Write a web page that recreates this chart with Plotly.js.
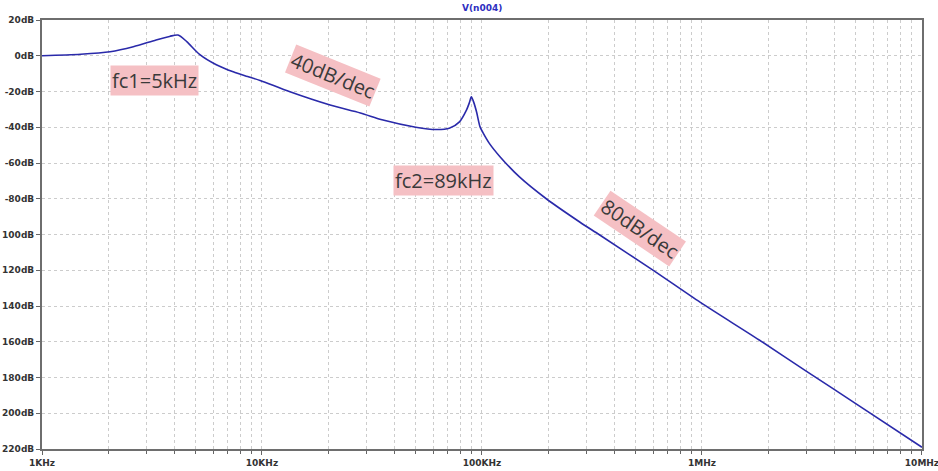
<!DOCTYPE html>
<html>
<head>
<meta charset="utf-8">
<script src="https://cdn.plot.ly/plotly-3.0.1.min.js"></script>
<style>html,body{margin:0;padding:0;background:#fff;}#chart{width:938px;height:471px;}</style>
</head>
<body>
<div id="chart"></div>
<script>
// Frequency (Hz) and magnitude (dB)
const freqHz = [1000, 1500, 2040, 2600, 3300, 3800, 4150, 4550, 5200, 6200, 7400, 8600, 9800,
  13400, 20400, 28000, 35500, 50000, 62000, 71000, 79000, 85000, 87500, 89500, 92000, 94500,
  98000, 101000, 108000, 121000, 148000, 196000, 278000, 343000, 596000, 983000, 1820000,
  3000000, 5000000, 10000000];
const magDb = [0, 0.8, 2.2, 5, 8.8, 10.8, 11.6, 7.9, 0.8, -5.0, -9, -11.6, -13.8,
  -20.2, -27.6, -32, -36, -40, -41.3, -40.6, -37, -30.4, -26.5, -23, -26.5, -31.5,
  -39.8, -43, -49, -56.6, -67.8, -80, -93, -100.3, -119.8, -138, -159,
  -176.7, -194.6, -219];

const xTickVals = [1e3, 1e4, 1e5, 1e6, 1e7];
const xTickText = ['1KHz', '10KHz', '100KHz', '1MHz', '10MHz'];
const yTickVals = [20, 0, -20, -40, -60, -80, -100, -120, -140, -160, -180, -200, -220];
const yTickText = ['20dB', '0dB', '-20dB', '-40dB', '-60dB', '-80dB', '100dB', '120dB', '140dB', '160dB', '180dB', '200dB', '220dB'];

const labelText = ['fc1=5kHz', '40dB/dec', 'fc2=89kHz', '80dB/dec'];
const labelFreqHz = [3260, 21000, 67100, 522000];
const labelDb = [-13.6, -10.8, -69.6, -96.5];
const labelAngle = [0, 22, 0, 34];

const minorVals = [];
for (let d = 1e3; d < 1e7; d *= 10) { for (let k = 2; k <= 9; k++) minorVals.push(d * k); }

const tickFont = {family: 'DejaVu Sans', size: 9, color: '#333', weight: 'bold'};

const trace = {
  x: freqHz, y: magDb, type: 'scatter', mode: 'lines',
  line: {color: '#2a2aaa', width: 1.6, shape: 'spline', smoothing: 0.8}, hoverinfo: 'skip'
};

const annotations = labelText.map((t, i) => ({
  x: Math.log10(labelFreqHz[i]), y: labelDb[i], xref: 'x', yref: 'y',
  text: t, showarrow: false, textangle: labelAngle[i],
  font: {family: 'Open Sans', size: 20, color: '#3a3a3a'},
  bgcolor: '#f5c0c4', borderpad: 1
}));

const layout = {
  width: 938, height: 471,
  margin: {l: 42, r: 16, t: 20, b: 22},
  paper_bgcolor: '#fff', plot_bgcolor: '#fff',
  showlegend: false,
  title: {text: 'V(n004)', x: 0.514, xanchor: 'center', y: 0.984, yref: 'container', yanchor: 'middle',
    font: {family: 'DejaVu Sans', size: 9, color: '#2e2ec0', weight: 'bold'}},
  xaxis: {
    type: 'log', range: [3, 7.0001], automargin: false,
    tickmode: 'array', tickvals: xTickVals, ticktext: xTickText,
    ticklabeloverflow: 'allow',
    ticks: 'outside', ticklen: 4, tickcolor: '#666', tickwidth: 1,
    tickfont: tickFont,
    showline: true, mirror: true, linecolor: '#6e6e6e', linewidth: 2,
    showgrid: true, gridcolor: '#cccccc', griddash: 'dot', gridwidth: 1,
    zeroline: false,
    minor: {tickmode: 'array', tickvals: minorVals, ticks: 'outside', ticklen: 3, tickcolor: '#666',
      showgrid: true, gridcolor: '#cccccc', griddash: 'dot', gridwidth: 1}
  },
  yaxis: {
    range: [-220, 20], automargin: false,
    tickmode: 'array', tickvals: yTickVals, ticktext: yTickText,
    ticks: 'outside', ticklen: 4, tickcolor: '#666', tickwidth: 1,
    tickfont: tickFont,
    showline: true, mirror: true, linecolor: '#6e6e6e', linewidth: 2,
    showgrid: true, gridcolor: '#cccccc', griddash: 'dot', gridwidth: 1,
    zeroline: false
  },
  annotations: annotations
};

Plotly.newPlot('chart', [trace], layout, {displayModeBar: false, staticPlot: true});
</script>
</body>
</html>
